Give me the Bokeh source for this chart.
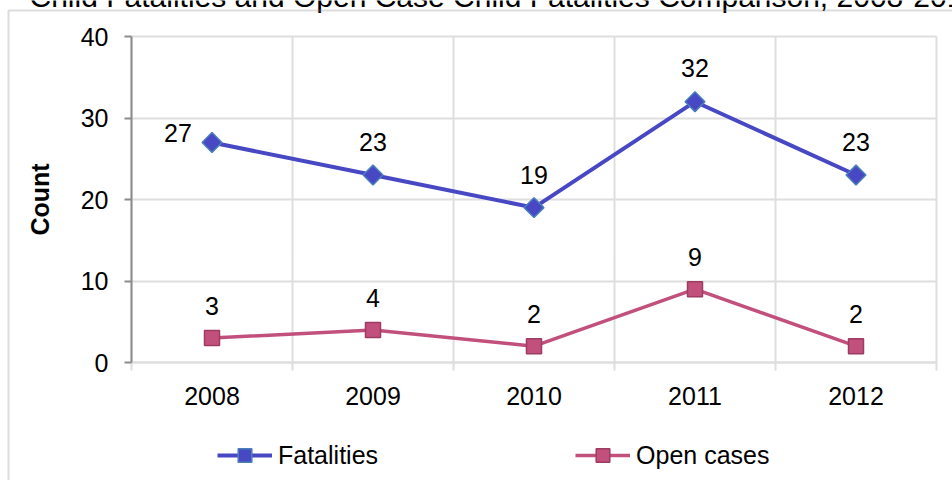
import math
from bokeh.plotting import figure
from bokeh.models import (ColumnDataSource, FixedTicker, Legend, LegendItem, Label,
                          PolyAnnotation, Range1d)
from bokeh.embed import file_html
from bokeh.resources import INLINE
from bokeh.core.properties import value

# ---- data ----
title_text = "Child Fatalities and Open Case Child Fatalities Comparison, 2008-2012"
years = [2008, 2009, 2010, 2011, 2012]
fatalities = [27, 23, 19, 32, 23]
open_cases = [3, 4, 2, 9, 2]
y_ticks = [0, 10, 20, 30, 40]
series_names = ["Fatalities", "Open cases"]
y_label = "Count"

# ---- styles / layout (pixels) ----
FONT = "Liberation Sans"
BLUE = "#4848C4"
BLUE_EDGE = "#4A7EBB"
PINK = "#C2507C"
PINK_EDGE = "#9E3B62"
GRID = "#DEDEDE"
AXIS = "#8C8C8C"

W, H = 952, 480
X0_PX, X1_PX = 131, 936      # left / right edge of the plot area
Y0_PX, Y1_PX = 362, 36       # rows of the lowest / highest y tick

fat_dx = [-34, 0, 0, 0, 0]
fat_dy = [-9, -33, -33, -34, -33]
open_dx = [0, 0, 0, 0, 0]
open_dy = [-32, -32, -32, -32, -32]

x_lo, x_hi = years[0] - 0.5, years[-1] + 0.5
y_lo, y_hi = y_ticks[0], y_ticks[-1]
xu = (x_hi - x_lo) / (X1_PX - X0_PX)
yu = (y_hi - y_lo) / (Y0_PX - Y1_PX)

p = figure(width=W, height=H, output_backend="svg", toolbar_location=None,
           x_range=Range1d(x_lo - X0_PX * xu, x_hi + (W - X1_PX) * xu),
           y_range=Range1d(y_lo - (H - Y0_PX) * yu, y_hi + Y1_PX * yu),
           min_border=0,
           background_fill_color="white", border_fill_color="white")
p.outline_line_color = None

boundaries = [y - 0.5 for y in years] + [years[-1] + 0.5]

# grids
p.xgrid.ticker = FixedTicker(ticks=boundaries)
p.ygrid.ticker = FixedTicker(ticks=y_ticks)
for g in (p.xgrid, p.ygrid):
    g.grid_line_color = GRID
    g.grid_line_width = 2
p.xgrid.cross_bounds = (y_lo, y_hi)
p.ygrid.cross_bounds = (x_lo, x_hi)

# x axis
p.xaxis.ticker = FixedTicker(ticks=years, minor_ticks=boundaries)
xa = p.xaxis[0]
xa.fixed_location = y_lo
xa.bounds = (x_lo, x_hi)
xa.axis_line_color = GRID
xa.axis_line_width = 2
xa.major_tick_out = 0
xa.major_tick_in = 0
xa.minor_tick_out = 8
xa.minor_tick_in = 0
xa.minor_tick_line_color = GRID
xa.minor_tick_line_width = 2
xa.major_label_standoff = 16
xa.major_label_text_font = FONT
xa.major_label_text_font_size = "25px"
xa.major_label_text_color = "black"

# y axis
p.yaxis.ticker = FixedTicker(ticks=y_ticks)
ya = p.yaxis[0]
ya.fixed_location = x_lo
ya.bounds = (y_lo, y_hi)
ya.axis_line_color = AXIS
ya.axis_line_width = 2
ya.major_tick_out = 7
ya.major_tick_in = 0
ya.major_tick_line_color = AXIS
ya.major_tick_line_width = 2
ya.minor_tick_out = 0
ya.minor_tick_in = 0
ya.major_label_standoff = 16
ya.major_label_text_font = FONT
ya.major_label_text_font_size = "25px"
ya.major_label_text_color = "black"
ya.axis_label = y_label
ya.axis_label_text_font = FONT
ya.axis_label_text_font_size = "25px"
ya.axis_label_text_font_style = "bold"
ya.axis_label_text_color = "black"
ya.axis_label_standoff = 24

# series
src_f = ColumnDataSource(dict(x=years, y=fatalities, t=[str(v) for v in fatalities],
                              dx=fat_dx, dy=fat_dy))
src_o = ColumnDataSource(dict(x=years, y=open_cases, t=[str(v) for v in open_cases],
                              dx=open_dx, dy=open_dy))

l1 = p.line("x", "y", source=src_f, line_color=BLUE, line_width=4)
l2 = p.line("x", "y", source=src_o, line_color=PINK, line_width=3.5)
m1 = p.scatter("x", "y", source=src_f, marker="square", angle=math.pi / 4, size=14,
               fill_color=BLUE, line_color=BLUE_EDGE, line_width=1.5)
m2 = p.scatter("x", "y", source=src_o, marker="square", size=15,
               fill_color=PINK, line_color=PINK_EDGE, line_width=1.5)

for src in (src_f, src_o):
    p.text("x", "y", text="t", source=src, x_offset="dx", y_offset="dy",
           text_align="center", text_baseline="middle",
           text_font=value(FONT), text_font_size="25px", text_color="black")

legend = Legend(items=[LegendItem(label=series_names[0], renderers=[l1, m1]),
                       LegendItem(label=series_names[1], renderers=[l2, m2])],
                orientation="horizontal", location=(217, H - 472),
                glyph_width=55, glyph_height=34, label_height=28,
                label_standoff=6, spacing=197, padding=0, margin=0,
                border_line_color=None, background_fill_alpha=0,
                label_text_font=FONT, label_text_font_size="25px",
                label_text_color="black")
p.add_layout(legend)

# title (partly cut off at the top, like the reference)
p.add_layout(Label(x=29, y=H + 4, x_units="screen", y_units="screen", text=title_text,
                   text_font=FONT, text_font_size="30px", text_color="black",
                   text_baseline="alphabetic", text_align="left"))

# outer chart border (left and top edges visible)
p.add_layout(PolyAnnotation(xs=[8, W + 50, W + 50, 8], ys=[-50, -50, H - 10, H - 10],
                            xs_units="screen", ys_units="screen",
                            fill_alpha=0, line_color=AXIS, line_width=2))

open("out.html", "w").write(file_html(p, INLINE))
